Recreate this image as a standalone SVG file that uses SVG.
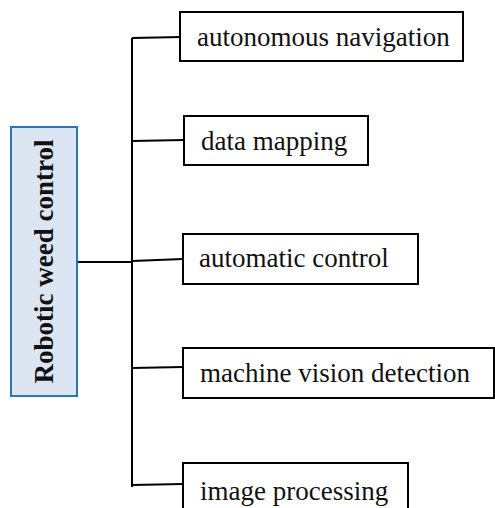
<svg xmlns="http://www.w3.org/2000/svg" width="495" height="508" viewBox="0 0 495 508">
<style>
.box{fill:#fff;stroke:#000;stroke-width:2}
.conn{stroke:#000;stroke-width:2;fill:none}
</style>
<rect width="495" height="508" fill="#fff"/>
<g id="root">
<rect x="11" y="127" width="66" height="269" fill="#DCE6F2" stroke="#2E75B6" stroke-width="2"/>
<text transform="translate(53,261.5) rotate(-90)" text-anchor="middle" font-family="Liberation Serif, serif" font-size="27" font-weight="bold" fill="#111">Robotic weed control</text>
</g>
<g id="connectors">
<line class="conn" x1="78" y1="262" x2="132" y2="262"/>
<line class="conn" x1="132" y1="38" x2="132" y2="487"/>
<line class="conn" x1="132" y1="38" x2="181" y2="37"/>
<line class="conn" x1="132" y1="141" x2="184" y2="140"/>
<line class="conn" x1="132" y1="261" x2="183" y2="259"/>
<line class="conn" x1="132" y1="368" x2="183" y2="367"/>
<line class="conn" x1="132" y1="485" x2="183" y2="484"/>
</g>
<g font-family="Liberation Serif, serif" font-size="27" fill="#111">
<g id="n1"><rect class="box" x="180" y="12" width="283" height="49"/><text x="197" y="46">autonomous navigation</text></g>
<g id="n2"><rect class="box" x="184" y="116" width="184" height="49"/><text x="201" y="150">data mapping</text></g>
<g id="n3"><rect class="box" x="183" y="234" width="235" height="50"/><text x="199" y="267">automatic control</text></g>
<g id="n4"><rect class="box" x="183" y="348" width="311" height="50"/><text x="200" y="382">machine vision detection</text></g>
<g id="n5"><rect class="box" x="183" y="463" width="225" height="50"/><text x="200" y="500">image processing</text></g>
</g>
</svg>
